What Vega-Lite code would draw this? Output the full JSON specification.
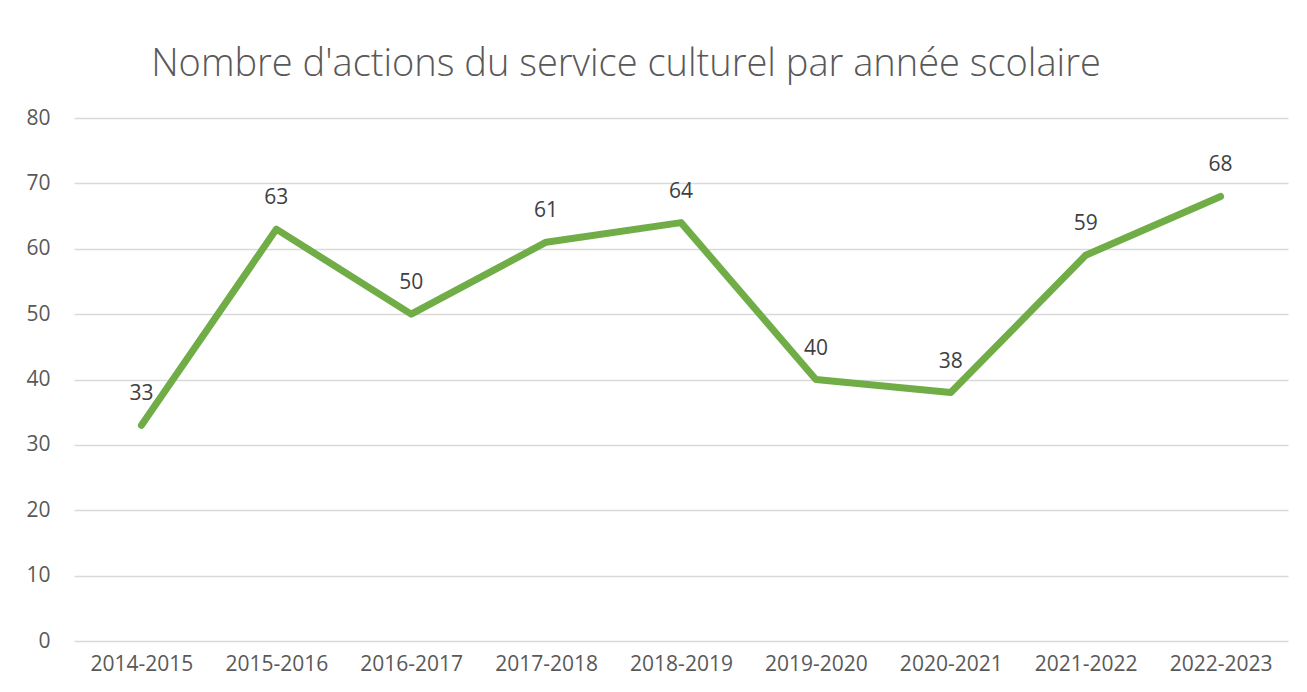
{
  "$schema": "https://vega.github.io/schema/vega-lite/v6.json",
  "width": 1214,
  "height": 523,
  "autosize": {"type": "none"},
  "padding": {"left": 74, "top": 118, "right": 19, "bottom": 51},
  "background": "white",
  "title": {
    "text": "Nombre d'actions du service culturel par année scolaire",
    "anchor": "middle",
    "dx": -55,
    "dy": 45,
    "offset": 38,
    "baseline": "alphabetic",
    "font": "Open Sans",
    "fontWeight": 300,
    "fontSize": 38,
    "color": "#595959"
  },
  "data": {
    "values": [
      {"annee": "2014-2015", "actions": 33},
      {"annee": "2015-2016", "actions": 63},
      {"annee": "2016-2017", "actions": 50},
      {"annee": "2017-2018", "actions": 61},
      {"annee": "2018-2019", "actions": 64},
      {"annee": "2019-2020", "actions": 40},
      {"annee": "2020-2021", "actions": 38},
      {"annee": "2021-2022", "actions": 59},
      {"annee": "2022-2023", "actions": 68}
    ]
  },
  "encoding": {
    "x": {
      "field": "annee",
      "type": "ordinal",
      "sort": null,
      "scale": {"type": "point", "padding": 0.5},
      "axis": {
        "title": null,
        "labelAngle": 0,
        "domain": false,
        "ticks": false,
        "grid": false,
        "labelFont": "Open Sans",
        "labelFontSize": 21,
        "labelColor": "#595959",
        "labelPadding": 12
      }
    },
    "y": {
      "field": "actions",
      "type": "quantitative",
      "scale": {"domain": [0, 80], "nice": false, "zero": true},
      "axis": {
        "title": null,
        "values": [0, 10, 20, 30, 40, 50, 60, 70, 80],
        "domain": false,
        "ticks": false,
        "grid": true,
        "gridColor": "#d9d9d9",
        "gridWidth": 1.5,
        "labelFont": "Open Sans",
        "labelFontSize": 21,
        "labelColor": "#595959",
        "labelPadding": 24
      }
    }
  },
  "layer": [
    {
      "mark": {
        "type": "line",
        "color": "#70AD47",
        "strokeWidth": 7,
        "strokeCap": "round",
        "strokeJoin": "round"
      }
    },
    {
      "mark": {
        "type": "text",
        "dy": -31,
        "font": "Open Sans",
        "fontSize": 21,
        "color": "#404040"
      },
      "encoding": {"text": {"field": "actions", "type": "quantitative"}}
    }
  ],
  "config": {"view": {"stroke": null}}
}
